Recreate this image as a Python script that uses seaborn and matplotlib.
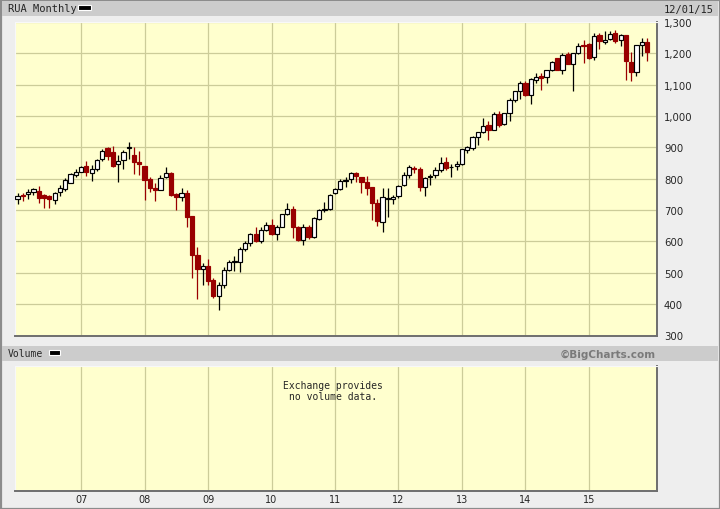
import matplotlib
matplotlib.use('Agg')
import matplotlib.pyplot as plt
from matplotlib.patches import Rectangle
import seaborn as sns
import numpy as np
import pandas as pd

# monthly candles, Jan 2006 .. Dec 2015
opens = [
    736, 749, 751, 759, 762, 749, 746, 732, 758, 767, 788, 812,
    823, 842, 819, 830, 863, 898, 885, 848, 861, 897, 875, 854,
    840, 799, 772, 765, 804, 818, 751, 743, 754, 680, 558, 512,
    523, 477, 426, 460, 509, 534, 534, 577, 596, 623, 601, 636,
    652, 625, 647, 687, 703, 647, 604, 647, 615, 673, 700, 704,
    753, 767, 794, 798, 818, 806, 791, 775, 724, 662, 737, 735,
    744, 779, 813, 834, 830, 773, 804, 812, 828, 853, 836, 842,
    848, 893, 898, 933, 949, 970, 956, 1008, 974, 1009, 1052, 1079,
    1107, 1067, 1114, 1127, 1124, 1146, 1184, 1146, 1197, 1166, 1200, 1226,
    1229, 1189, 1257, 1236, 1246, 1264, 1243, 1258, 1172, 1142, 1228, 1235,
]
highs = [
    753, 756, 767, 772, 778, 751, 748, 757, 780, 801, 819, 832,
    841, 857, 844, 864, 895, 902, 904, 876, 891, 917, 900, 887,
    841, 806, 788, 813, 837, 823, 754, 770, 765, 681, 581, 530,
    545, 483, 470, 518, 541, 555, 582, 601, 626, 646, 645, 662,
    671, 651, 688, 723, 712, 648, 655, 652, 678, 705, 725, 752,
    772, 800, 805, 823, 823, 806, 808, 775, 734, 772, 772, 748,
    780, 820, 845, 842, 836, 806, 814, 838, 870, 868, 848, 858,
    896, 905, 936, 950, 993, 985, 1012, 1016, 1011, 1057, 1081, 1111,
    1111, 1120, 1137, 1137, 1148, 1176, 1186, 1200, 1203, 1202, 1232, 1243,
    1232, 1264, 1264, 1272, 1272, 1275, 1261, 1259, 1205, 1228, 1250, 1248,
]
lows = [
    718, 728, 736, 747, 722, 706, 706, 720, 744, 762, 787, 805,
    821, 810, 792, 826, 858, 860, 838, 790, 831, 863, 814, 812,
    731, 757, 730, 764, 802, 745, 700, 730, 645, 483, 418, 462,
    462, 420, 382, 452, 506, 506, 504, 570, 586, 598, 596, 633,
    620, 606, 645, 685, 610, 600, 590, 608, 612, 670, 693, 700,
    750, 765, 773, 785, 790, 755, 748, 668, 650, 630, 678, 720,
    740, 776, 803, 817, 760, 745, 780, 802, 823, 828, 804, 828,
    845, 881, 893, 908, 947, 924, 956, 966, 970, 985, 1045, 1055,
    1063, 1039, 1104, 1082, 1105, 1145, 1146, 1134, 1166, 1079, 1199, 1168,
    1182, 1180, 1215, 1229, 1243, 1232, 1222, 1115, 1112, 1128, 1190, 1177,
]
closes = [
    745, 745, 759, 766, 739, 739, 737, 756, 772, 797, 814, 823,
    839, 823, 830, 860, 890, 874, 841, 856, 885, 900, 854, 847,
    796, 771, 765, 803, 817, 748, 741, 754, 677, 556, 511, 523,
    475, 425, 461, 510, 534, 537, 577, 596, 623, 600, 636, 651,
    625, 647, 687, 703, 645, 604, 647, 615, 674, 700, 703, 749,
    767, 793, 797, 818, 808, 791, 772, 724, 665, 743, 740, 743,
    778, 812, 837, 830, 774, 803, 810, 828, 849, 835, 837, 848,
    895, 901, 933, 948, 967, 954, 1006, 972, 1009, 1052, 1080, 1107,
    1068, 1118, 1125, 1122, 1146, 1173, 1146, 1195, 1166, 1200, 1225, 1222,
    1186, 1254, 1240, 1243, 1261, 1238, 1257, 1176, 1142, 1228, 1235, 1204,
]

year_labels = ["07", "08", "09", "10", "11", "12", "13", "14", "15"]
price_ticks = [300, 400, 500, 600, 700, 800, 900, 1000, 1100, 1200, 1300]

UP_EDGE = "black"
DOWN = "#990000"
PANEL = "#FFFFCE"
GRID = "#CCCC99"
BG = "#EEEEEE"
BAR = "#CCCCCC"

df = pd.DataFrame({"open": opens, "high": highs, "low": lows, "close": closes})
df["idx"] = np.arange(len(df))
df["up"] = df["close"] >= df["open"]
jan_idx = [12 * (i + 1) for i in range(len(year_labels))]

sns.set_style("white")
plt.rcParams["font.family"] = ["DejaVu Sans"]

W, H = 720, 510
fig = plt.figure(figsize=(W / 100, H / 100), dpi=100, facecolor=BG)


def px_box(x0, y0, x1, y1):
    return [x0 / W, 1 - y1 / H, (x1 - x0) / W, (y1 - y0) / H]


def fig_rect(x0, y0, x1, y1, **kw):
    b = px_box(x0, y0, x1, y1)
    fig.patches.append(Rectangle((b[0], b[1]), b[2], b[3],
                                 transform=fig.transFigure, **kw))


# frame and header bars
fig_rect(0.5, 0.5, 719.5, 509.5, facecolor="none", edgecolor="#8C8C8C", lw=1.6)
fig_rect(2, 2, 718, 17, facecolor=BAR, edgecolor="none")
fig_rect(2, 347, 718, 362, facecolor=BAR, edgecolor="none")
fig_rect(78, 6, 91, 11, facecolor="black", edgecolor="white", lw=0.8)
fig_rect(49, 351, 60, 356, facecolor="black", edgecolor="white", lw=0.8)

fig.text(8 / W, 1 - 9.5 / H, "RUA Monthly", family="DejaVu Sans Mono",
         fontsize=7.5, va="center", ha="left")
fig.text(714 / W, 1 - 9.5 / H, "12/01/15", family="DejaVu Sans Mono",
         fontsize=7.5, va="center", ha="right")
fig.text(8 / W, 1 - 354.5 / H, "Volume", family="DejaVu Sans Mono",
         fontsize=7, va="center", ha="left")
fig.text(656 / W, 1 - 354.5 / H, "\u00a9BigCharts.com", fontsize=7.5,
         weight="bold", color="#7A7A7A", va="center", ha="right")

# price panel
ax = fig.add_axes(px_box(14.7, 23, 656.6, 336.5))
ax.set_facecolor(PANEL)
ax.set_axisbelow(True)

colors = np.where(df["up"], UP_EDGE, DOWN)
ax.vlines(df["idx"], df["low"], df["high"], colors=colors, lw=0.9, zorder=2)
body_lo = np.minimum(df["open"], df["close"])
body_h = np.maximum((df["close"] - df["open"]).abs(), 0.6)
ax.bar(df["idx"], body_h, bottom=body_lo, width=0.8,
       color=np.where(df["up"], "white", DOWN), edgecolor=colors,
       linewidth=0.85, zorder=3)

ax.set_xlim(-0.55, 120.8)
ax.set_ylim(300, 1300)
ax.set_xticks(jan_idx)
ax.set_xticklabels([])
ax.set_yticks(price_ticks)
ax.set_yticklabels([f"{v:,}" for v in price_ticks])
ax.yaxis.tick_right()
ax.tick_params(axis="both", length=0)
ax.tick_params(axis="y", pad=5.3, labelsize=7.3)
ax.grid(True, color=GRID, lw=0.9)
for side in ["left", "top"]:
    ax.spines[side].set_color("#F8F8F8")
    ax.spines[side].set_linewidth(0.8)
for side in ["right", "bottom"]:
    ax.spines[side].set_color("#6E6E6E")
    ax.spines[side].set_linewidth(1.4)

# volume panel
vax = fig.add_axes(px_box(14.7, 367, 656.6, 492))
vax.set_facecolor(PANEL)
vax.set_xlim(-0.55, 120.8)
vax.set_ylim(0, 1)
vax.set_xticks(jan_idx)
vax.set_xticklabels(year_labels)
vax.set_yticks([])
vax.tick_params(axis="x", length=0, pad=2.5, labelsize=7)
vax.grid(True, axis="x", color=GRID, lw=0.9)
for side in ["left", "top"]:
    vax.spines[side].set_color("#F8F8F8")
    vax.spines[side].set_linewidth(0.8)
for side in ["right", "bottom"]:
    vax.spines[side].set_color("#6E6E6E")
    vax.spines[side].set_linewidth(1.4)

fig.text(333 / W, 1 - 391.5 / H, "Exchange provides\nno volume data.",
         family="DejaVu Sans Mono", fontsize=7, ha="center", va="center",
         linespacing=1.15)

fig.savefig("out.png", dpi=100, facecolor=fig.get_facecolor())
